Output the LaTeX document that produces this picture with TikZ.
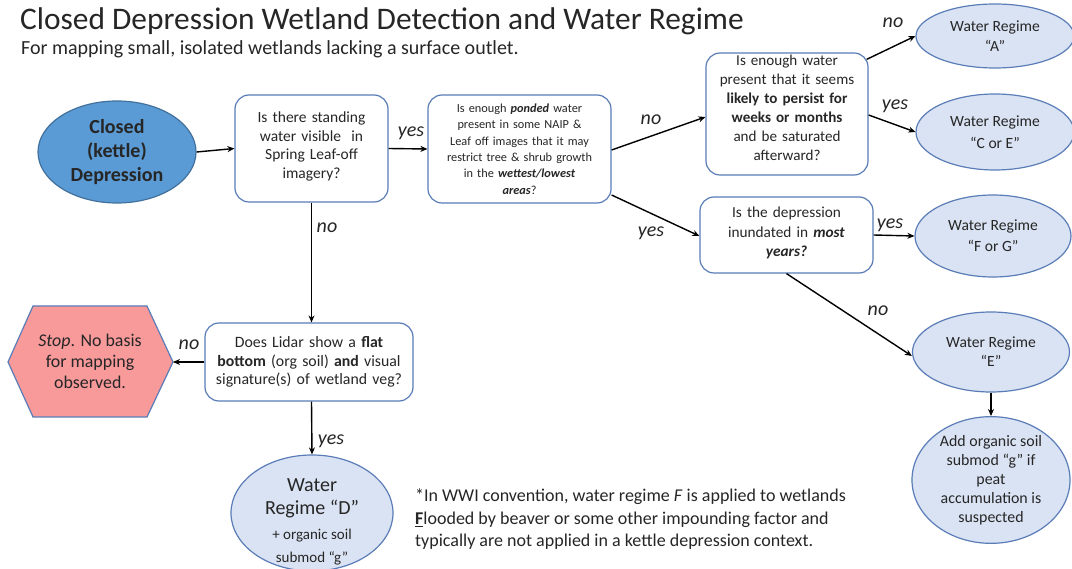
\documentclass[tikz,border=0pt]{standalone}
\usepackage{fontspec}
\setmainfont{Carlito}
\usetikzlibrary{arrows.meta,shapes.geometric}
\definecolor{boxline}{HTML}{5A7DB8}
\definecolor{lightfill}{HTML}{DAE3F3}
\definecolor{darkfill}{HTML}{5B9BD5}
\definecolor{darkline}{HTML}{41719C}
\definecolor{stopfill}{HTML}{F8999A}
\definecolor{txt}{HTML}{262626}
\newcommand{\fs}[2]{\fontsize{#1}{#2}\selectfont}
\tikzset{
  qbox/.style={draw=boxline, line width=1.2pt, rounded corners=14pt, fill=white, align=center, text=txt, inner sep=2pt},
  lell/.style={ellipse, draw=boxline, line width=1.2pt, fill=lightfill, align=center, text=txt, inner sep=0pt},
  arr/.style={line width=1.4pt, -{Stealth[length=7pt,width=6pt]}},
  lbl/.style={font=\fs{20}{22}\itshape, text=txt, inner sep=0pt},
}
\begin{document}
\begin{tikzpicture}[x=1pt,y=-1pt]
\useasboundingbox[fill=white] (0,0) rectangle (1072,569);

% titles
\node[anchor=base west, inner sep=0pt, text=txt, font=\fs{31.4}{34}] (title) at (20,30) {Closed Depression Wetland Detection and Water Regime};
\node[anchor=base west, inner sep=0pt, text=txt, font=\fs{20}{22}] (subtitle) at (21,55) {For mapping small, isolated wetlands lacking a surface outlet.};

% nodes
\node[ellipse, draw=darkline, line width=1.2pt, fill=darkfill, minimum width=158pt, minimum height=102pt, align=center, inner sep=0pt, text=txt, font=\fs{20}{24}\bfseries] (start) at (117,152) {Closed\\ (kettle)\\ Depression};

\node[qbox, minimum width=153pt, minimum height=107pt, text width=145pt, font=\fs{15.5}{18.5}] (q1) at (311.5,148.5) {\mbox{}\\[-12pt] Is there standing\\ water visible~ in\\ Spring Leaf-off\\ imagery?};

\node[qbox, minimum width=183pt, minimum height=108pt, text width=178pt, font=\fs{12.3}{16.3}] (q2) at (519.5,149) {Is enough \textbf{\textit{ponded}} water\\ present in some NAIP \&\\ Leaf off images that it may\\ restrict tree \& shrub growth\\ in the \textbf{\textit{wettest/lowest}}\\ \textbf{\textit{areas}}?};

\node[qbox, minimum width=162pt, minimum height=122pt, text width=158pt, font=\fs{15.1}{19}] (q3) at (787,114) {Is enough water\\ present that it seems\\ \textbf{likely to persist for}\\ \textbf{weeks or months}\\ and be saturated\\ afterward?\\[-7pt]\mbox{}};

\node[qbox, minimum width=173pt, minimum height=76pt, text width=168pt, font=\fs{15.3}{19.5}] (q4) at (786.5,235) {Is the depression\\ inundated in \textbf{\textit{most}}\\ \textbf{\textit{years?}}\\[-13.5pt]\mbox{}};

\node[qbox, minimum width=208pt, minimum height=78pt, text width=204pt, font=\fs{15.8}{18.5}] (q5) at (309,362) {Does Lidar show a \textbf{flat}\\ \textbf{bottom} (org soil) \textbf{and} visual\\ signature(s) of wetland veg?};

\node[lell, minimum width=158pt, minimum height=64pt, font=\fs{15.6}{20}] (wa) at (995,36) {Water Regime\\ “A”};
\node[lell, minimum width=158pt, minimum height=76pt, font=\fs{15.6}{22}] (wce) at (995,132) {Water Regime\\ “C or E”};
\node[lell, minimum width=156pt, minimum height=82pt, font=\fs{15.6}{21}] (wfg) at (993,236) {Water Regime\\ “F or G”};
\node[lell, minimum width=157pt, minimum height=80pt, font=\fs{15.6}{19}] (we) at (991,352) {Water Regime\\ “E”};
\node[lell, minimum width=158pt, minimum height=114pt, font=\fs{15.9}{19}] (worg) at (991,480) {Add organic soil\\ submod “g” if\\ peat\\ accumulation is\\ suspected};
\node[lell, minimum width=162pt, minimum height=116pt] (wd) at (312,513) {};
\node[align=center, text=txt, inner sep=0pt, font=\fs{20}{23}] (wdt) at (312,522) {Water\\ Regime “D”\\[2pt] {\fs{15}{19}+ organic soil}\\ {\fs{15}{19}submod “g”}};

% stop hexagon
\draw[draw=boxline, line width=1.2pt, fill=stopfill] (8,362) -- (33,306) -- (147,306) -- (173,362) -- (147,417) -- (33,417) -- cycle;
\coordinate (stopE) at (173,362);
\node[align=center, text=txt, inner sep=0pt, font=\fs{17.9}{21}] (stop) at (90,361) {\textit{Stop}. No basis\\ for mapping\\ observed.};

% footnote
\node[anchor=north west, align=left, inner sep=0pt, text=txt, font=\fs{18}{22.5}] (note) at (415,489) {*In WWI convention, water regime \textit{F} is applied to wetlands\\ \underline{\textbf{F}}looded by beaver or some other impounding factor and\\ typically are not applied in a kettle depression context.};

% connectors
\draw[arr] (start.east) -- (q1.west);
\draw[arr] (q1.east) -- (q2.west);
\draw[arr] ([yshift=-1pt]q2.east) -- ([yshift=-3pt]q3.west);
\coordinate (q3a) at ([xshift=-2pt,yshift=-7pt]q3.north east);
\draw[arr] (q3a) -- (wa.west);
\draw[arr] ([yshift=-1pt]q3.east) -- (wce.west);
\draw[arr] ([yshift=-46pt]q2.east) -- ([yshift=-1pt]q4.west);
\draw[arr] (q4.east) -- (wfg.west);
\draw[arr] (q4.south) -- ([yshift=-4pt]we.west);
\draw[arr] (we.south) -- (worg.north);
\draw[arr] (q1.south) -- (q5.north -| q1.south);
\draw[arr] (q5.west) -- (stopE);
\draw[arr] (q5.south -| q1.south) -- (wd.north);

% labels
\node[lbl] (l1) at (411,133) {yes};
\node[lbl] (l2) at (651,120) {no};
\node[lbl] (l3) at (893,23) {no};
\node[lbl] (l4) at (895,106) {yes};
\node[lbl] (l5) at (651,233) {yes};
\node[lbl] (l6) at (890,225) {yes};
\node[lbl] (l7) at (878,311) {no};
\node[lbl] (l8) at (327,228) {no};
\node[lbl] (l9) at (189,345) {no};
\node[lbl] (l10) at (331,441) {yes};
\end{tikzpicture}
\end{document}
